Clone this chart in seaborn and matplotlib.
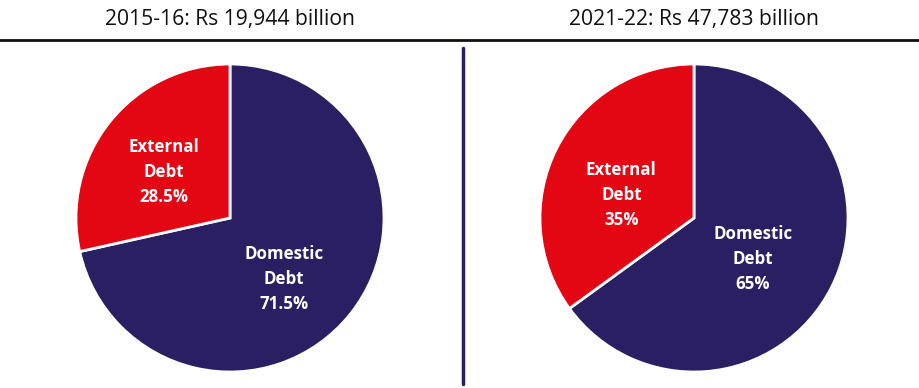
import matplotlib
matplotlib.use("Agg")
import matplotlib.pyplot as plt
import numpy as np
import seaborn as sns

# Composition of government debt, two fiscal years
categories = ["Domestic Debt", "External Debt"]
share_2016 = [71.5, 28.5]
share_2022 = [65, 35]
pct_labels_2016 = ["71.5%", "28.5%"]
pct_labels_2022 = ["65%", "35%"]
titles = ["2015-16: Rs 19,944 billion", "2021-22: Rs 47,783 billion"]

sns.set_theme(style="white")
plt.rcParams["font.family"] = ["Open Sans", "DejaVu Sans"]

navy = "#2a1f63"
red = "#e30613"
colors = [navy, red]

W, H = 919, 388
fig = plt.figure(figsize=(W / 100, H / 100), dpi=100)
fig.patch.set_facecolor("white")


def draw_pie(x0, values, pct_labels, placement):
    """placement: per wedge (radial distance, vertical nudge) for its label."""
    ax = fig.add_axes([x0 / W, 16 / H, 308 / W, 308 / H])
    labels = [f"{c.split()[0]}\n{c.split()[1]}\n{p}" for c, p in zip(categories, pct_labels)]
    wedges, _ = ax.pie(values, colors=colors, startangle=90, counterclock=False,
                       wedgeprops=dict(edgecolor="white", linewidth=2))
    for w, lab, (d, dy) in zip(wedges, labels, placement):
        ang = np.deg2rad((w.theta1 + w.theta2) / 2)
        ax.text(d * np.cos(ang), d * np.sin(ang) + dy, lab, ha="center", va="center",
                color="white", fontsize=12.2, fontweight="bold", linespacing=1.5)
    ax.set_xlim(-1, 1)
    ax.set_ylim(-1, 1)
    ax.set_aspect("equal")
    ax.axis("off")
    return ax


# order: domestic, external
draw_pie(76, share_2016, pct_labels_2016, [(0.45, -0.113), (0.55, -0.043)])
draw_pie(540, share_2022, pct_labels_2022, [(0.43, -0.073), (0.53, -0.093)])

fig.text(230 / W, 1 - 19 / H, titles[0], ha="center", va="center", fontsize=15.2, color="#111111")
fig.text(694 / W, 1 - 19 / H, titles[1], ha="center", va="center", fontsize=15.2, color="#111111")

# Header rule and divider between the two years
fig.add_artist(plt.Line2D([0, 1], [1 - 40 / H, 1 - 40 / H], color="#111111", linewidth=2))
fig.add_artist(plt.Line2D([463 / W, 463 / W], [1 - 48 / H, 1 - 384 / H], color=navy, linewidth=2.5))

fig.savefig("out.png", dpi=100, facecolor="white")
